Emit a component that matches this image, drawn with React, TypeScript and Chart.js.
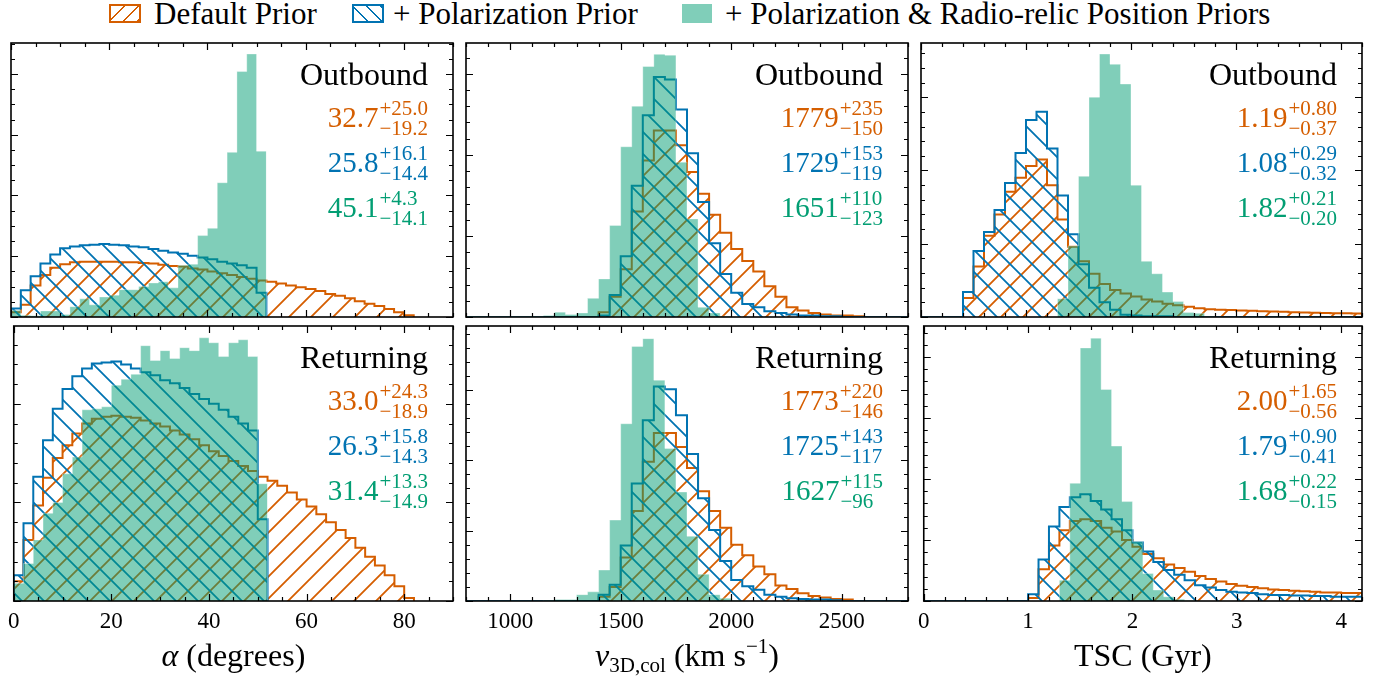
import React, { useEffect, useRef } from 'react';
import { Chart, registerables } from 'chart.js';

Chart.register(...registerables);

const ORANGE = '#d55e00';
const BLUE = '#0173b2';
const GREEN = '#029e73';
const GREEN_FILL = 'rgba(2,158,115,0.5)';
const FONT = '"Liberation Serif", "DejaVu Serif", serif';

// ---------- bin edges ----------
const alphaEdges = [0, 2, 4, 6, 8, 10, 12, 14, 16, 18, 20, 22, 24, 26, 28, 30, 32, 34, 36, 38, 40, 42, 44, 46, 48, 50, 52, 54, 56, 58, 60, 62, 64, 66, 68, 70, 72, 74, 76, 78, 80, 82];
const velocityEdges = [800, 850, 900, 950, 1000, 1050, 1100, 1150, 1200, 1250, 1300, 1350, 1400, 1450, 1500, 1550, 1600, 1650, 1700, 1750, 1800, 1850, 1900, 1950, 2000, 2050, 2100, 2150, 2200, 2250, 2300, 2350, 2400, 2450, 2500, 2550, 2600, 2650, 2700, 2750, 2800];
const tscEdges = [0, 0.1, 0.2, 0.3, 0.4, 0.5, 0.6, 0.7, 0.8, 0.9, 1.0, 1.1, 1.2, 1.3, 1.4, 1.5, 1.6, 1.7, 1.8, 1.9, 2.0, 2.1, 2.2, 2.3, 2.4, 2.5, 2.6, 2.7, 2.8, 2.9, 3.0, 3.1, 3.2, 3.3, 3.4, 3.5, 3.6, 3.7, 3.8, 3.9, 4.0, 4.1, 4.2];

// ---------- alpha (degrees) ----------
const alphaOutOrange = [0.08, 0.2, 0.52, 0.69, 0.81, 0.87, 0.9, 0.91, 0.91, 0.91, 0.91, 0.9, 0.9, 0.89, 0.88, 0.86, 0.84, 0.83, 0.8, 0.78, 0.75, 0.72, 0.69, 0.66, 0.63, 0.6, 0.58, 0.55, 0.52, 0.49, 0.46, 0.43, 0.38, 0.35, 0.31, 0.26, 0.22, 0.18, 0.13, 0.08, 0.03];
const alphaOutBlue = [0.14, 0.44, 0.67, 0.88, 1.03, 1.13, 1.16, 1.18, 1.19, 1.2, 1.19, 1.18, 1.16, 1.15, 1.12, 1.09, 1.06, 1.04, 1.01, 0.98, 0.95, 0.91, 0.88, 0.85, 0.81, 0.4];
const alphaOutGreen = [0.11, 0.03, 0.02, 0.1, 0.1, 0.04, 0.17, 0.3, 0.2, 0.33, 0.36, 0.45, 0.45, 0.5, 0.56, 0.58, 0.48, 0.85, 0.87, 1.34, 1.46, 2.21, 2.71, 4.04, 4.33, 2.73];
const alphaRetOrange = [0.2, 0.62, 0.97, 1.25, 1.45, 1.58, 1.7, 1.8, 1.85, 1.87, 1.88, 1.87, 1.86, 1.83, 1.8, 1.77, 1.73, 1.69, 1.64, 1.58, 1.52, 1.47, 1.42, 1.37, 1.32, 1.26, 1.22, 1.17, 1.1, 1.03, 0.96, 0.88, 0.8, 0.72, 0.64, 0.54, 0.45, 0.36, 0.26, 0.15, 0.03];
const alphaRetBlue = [0.26, 0.79, 1.26, 1.63, 1.95, 2.15, 2.28, 2.36, 2.41, 2.42, 2.43, 2.4, 2.36, 2.32, 2.29, 2.24, 2.21, 2.16, 2.1, 2.05, 2.0, 1.94, 1.87, 1.8, 1.73, 0.83];
const alphaRetGreen = [0.18, 0.38, 0.62, 0.89, 1.0, 1.29, 1.46, 1.94, 1.95, 1.97, 2.19, 2.25, 2.3, 2.59, 2.44, 2.54, 2.46, 2.57, 2.54, 2.67, 2.62, 2.48, 2.62, 2.65, 2.48, 1.19];

// ---------- v_3D,col (km/s) ----------
const velOutOrange = [0, 0, 0, 0, 0, 0, 0, 0, 0, 0, 0, 0, 0.06, 0.25, 0.59, 1.3, 1.93, 2.3, 2.3, 2.12, 1.79, 1.52, 1.26, 1.04, 0.84, 0.69, 0.56, 0.38, 0.25, 0.12, 0.08, 0.05, 0.03, 0.02, 0.02, 0.01, 0, 0, 0, 0];
const velOutBlue = [0, 0, 0, 0, 0, 0, 0, 0, 0, 0, 0, 0, 0.02, 0.27, 0.75, 1.62, 2.49, 2.96, 2.93, 2.56, 2.02, 1.42, 0.91, 0.53, 0.3, 0.16, 0.12, 0.07, 0.05, 0.03, 0.02, 0.02, 0.01, 0.01, 0, 0, 0, 0, 0, 0];
const velOutGreen = [0.01, 0.01, 0.01, 0.01, 0.01, 0.01, 0.01, 0.02, 0.06, 0.03, 0.05, 0.23, 0.47, 1.13, 2.1, 2.6, 3.09, 3.24, 3.23, 1.91, 1.21, 0.12, 0.05, 0.01, 0, 0, 0, 0, 0, 0, 0, 0, 0, 0, 0, 0, 0, 0, 0, 0];
const velRetOrange = [0, 0, 0, 0, 0, 0, 0, 0, 0, 0, 0, 0, 0.06, 0.2, 0.62, 1.28, 1.98, 2.39, 2.39, 2.19, 1.89, 1.56, 1.28, 1.04, 0.8, 0.65, 0.49, 0.38, 0.22, 0.17, 0.11, 0.07, 0.05, 0.03, 0.02, 0, 0, 0, 0, 0];
const velRetBlue = [0, 0, 0, 0, 0, 0, 0, 0, 0, 0, 0, 0, 0.09, 0.23, 0.79, 1.67, 2.57, 3.05, 3.01, 2.64, 2.09, 1.46, 1.01, 0.57, 0.3, 0.21, 0.16, 0.09, 0.06, 0.04, 0.03, 0.02, 0.02, 0.01, 0, 0, 0, 0, 0, 0];
const velRetGreen = [0, 0, 0, 0, 0, 0, 0, 0.01, 0.02, 0.02, 0.09, 0.13, 0.44, 1.15, 2.52, 3.62, 3.73, 3.14, 2.17, 1.55, 0.92, 0.38, 0.09, 0.04, 0.01, 0, 0, 0, 0, 0, 0, 0, 0, 0, 0, 0, 0, 0, 0, 0];

// ---------- TSC (Gyr) ----------
const tscOutOrange = [0, 0, 0, 0, 0.26, 0.69, 1.11, 1.4, 1.71, 1.9, 2.06, 2.15, 1.8, 1.33, 0.96, 0.76, 0.59, 0.45, 0.37, 0.32, 0.28, 0.24, 0.21, 0.18, 0.16, 0.14, 0.12, 0.105, 0.1, 0.095, 0.09, 0.085, 0.08, 0.075, 0.07, 0.065, 0.062, 0.058, 0.055, 0.052, 0.05, 0.048];
const tscOutBlue = [0, 0, 0, 0, 0.34, 0.9, 1.16, 1.46, 1.83, 2.24, 2.69, 2.8, 2.3, 1.66, 1.13, 0.72, 0.4, 0.2, 0.1, 0.03, 0.02, 0.01, 0.01, 0.01, 0, 0, 0, 0, 0, 0, 0, 0, 0, 0, 0, 0, 0, 0, 0, 0, 0, 0];
const tscOutGreen = [0, 0, 0, 0, 0, 0, 0, 0, 0, 0, 0, 0, 0, 0.25, 0.97, 1.92, 3.0, 3.59, 3.45, 3.18, 1.8, 0.76, 0.59, 0.34, 0.21, 0.06, 0.05, 0.01, 0, 0, 0, 0, 0, 0, 0, 0, 0, 0, 0, 0, 0, 0];
const tscRetOrange = [0, 0, 0, 0, 0, 0, 0, 0, 0, 0, 0.05, 0.52, 0.91, 1.16, 1.31, 1.34, 1.31, 1.2, 1.14, 1.0, 0.89, 0.77, 0.7, 0.6, 0.54, 0.48, 0.41, 0.36, 0.32, 0.28, 0.25, 0.23, 0.21, 0.19, 0.18, 0.17, 0.16, 0.15, 0.14, 0.14, 0.13, 0.13];
const tscRetBlue = [0, 0, 0, 0, 0, 0, 0, 0, 0, 0, 0.11, 0.68, 1.22, 1.54, 1.7, 1.75, 1.64, 1.5, 1.34, 1.16, 0.96, 0.81, 0.64, 0.51, 0.43, 0.34, 0.26, 0.22, 0.18, 0.15, 0.14, 0.13, 0.11, 0.1, 0.1, 0.09, 0.09, 0.08, 0.08, 0.07, 0.07, 0.07];
const tscRetGreen = [0, 0, 0, 0, 0, 0, 0, 0, 0, 0, 0, 0, 0, 0.34, 1.93, 4.15, 4.31, 3.47, 2.54, 1.63, 0.97, 0.45, 0.18, 0.07, 0.03, 0.01, 0, 0, 0, 0, 0, 0, 0, 0, 0, 0, 0, 0, 0, 0, 0, 0];

// ---------- tick labels ----------
const alphaTicks = [0, 20, 40, 60, 80];
const alphaTickLabels = ['0', '20', '40', '60', '80'];
const velocityTicks = [1000, 1500, 2000, 2500];
const velocityTickLabels = ['1000', '1500', '2000', '2500'];
const tscTicks = [0, 1, 2, 3, 4];
const tscTickLabels = ['0', '1', '2', '3', '4'];

// ---------- legend / annotation text ----------
const seriesNames = ['Default Prior', '+ Polarization Prior', '+ Polarization & Radio-relic Position Priors'];
const alphaOutStats = [['32.7', '+25.0', '\u221219.2'], ['25.8', '+16.1', '\u221214.4'], ['45.1', '+4.3', '\u221214.1']];
const velOutStats = [['1779', '+235', '\u2212150'], ['1729', '+153', '\u2212119'], ['1651', '+110', '\u2212123']];
const tscOutStats = [['1.19', '+0.80', '\u22120.37'], ['1.08', '+0.29', '\u22120.32'], ['1.82', '+0.21', '\u22120.20']];
const alphaRetStats = [['33.0', '+24.3', '\u221218.9'], ['26.3', '+15.8', '\u221214.3'], ['31.4', '+13.3', '\u221214.9']];
const velRetStats = [['1773', '+220', '\u2212146'], ['1725', '+143', '\u2212117'], ['1627', '+115', '\u221296']];
const tscRetStats = [['2.00', '+1.65', '\u22120.56'], ['1.79', '+0.90', '\u22120.41'], ['1.68', '+0.22', '\u22120.15']];

type Seg = { t: string; size: number; italic?: boolean; dy?: number };
const alphaTitle: Seg[] = [{ t: '\u03b1', size: 32, italic: true }, { t: ' (degrees)', size: 32 }];
const velocityTitle: Seg[] = [
  { t: 'v', size: 32, italic: true },
  { t: '3D,col', size: 21, dy: 6 },
  { t: ' (km s', size: 32 },
  { t: '\u22121', size: 21, dy: -13 },
  { t: ')', size: 32 },
];
const tscTitle: Seg[] = [{ t: 'TSC (Gyr)', size: 32 }];

interface PanelCfg {
  left: number; top: number; width: number; height: number; bottomRow: boolean;
  edges: number[]; orange: number[]; blue: number[]; green: number[];
  xMin: number; xMax: number; ticks: number[]; tickLabels: string[]; xMinor: number;
  yMax: number; yMinor: number; label: string; stats: string[][]; axisTitle: Seg[];
}

const COLS = [{ left: 1, width: 462 }, { left: 456, width: 462 }, { left: 911, width: 461 }];
const ROWS = [{ top: 33, height: 294, bottomRow: false }, { top: 316, height: 360, bottomRow: true }];

const panels: PanelCfg[] = [
  { ...COLS[0], ...ROWS[0], edges: alphaEdges, orange: alphaOutOrange, blue: alphaOutBlue, green: alphaOutGreen, xMin: 0, xMax: 90, ticks: alphaTicks, tickLabels: alphaTickLabels, xMinor: 5, yMax: 4.51, yMinor: 0.25, label: 'Outbound', stats: alphaOutStats, axisTitle: alphaTitle },
  { ...COLS[1], ...ROWS[0], edges: velocityEdges, orange: velOutOrange, blue: velOutBlue, green: velOutGreen, xMin: 800, xMax: 2800, ticks: velocityTicks, tickLabels: velocityTickLabels, xMinor: 100, yMax: 3.38, yMinor: 0.2, label: 'Outbound', stats: velOutStats, axisTitle: velocityTitle },
  { ...COLS[2], ...ROWS[0], edges: tscEdges, orange: tscOutOrange, blue: tscOutBlue, green: tscOutGreen, xMin: 0, xMax: 4.2, ticks: tscTicks, tickLabels: tscTickLabels, xMinor: 0.2, yMax: 3.74, yMinor: 0.2, label: 'Outbound', stats: tscOutStats, axisTitle: tscTitle },
  { ...COLS[0], ...ROWS[1], edges: alphaEdges, orange: alphaRetOrange, blue: alphaRetBlue, green: alphaRetGreen, xMin: 0, xMax: 90, ticks: alphaTicks, tickLabels: alphaTickLabels, xMinor: 5, yMax: 2.79, yMinor: 0.2, label: 'Returning', stats: alphaRetStats, axisTitle: alphaTitle },
  { ...COLS[1], ...ROWS[1], edges: velocityEdges, orange: velRetOrange, blue: velRetBlue, green: velRetGreen, xMin: 800, xMax: 2800, ticks: velocityTicks, tickLabels: velocityTickLabels, xMinor: 100, yMax: 3.91, yMinor: 0.2, label: 'Returning', stats: velRetStats, axisTitle: velocityTitle },
  { ...COLS[2], ...ROWS[1], edges: tscEdges, orange: tscRetOrange, blue: tscRetBlue, green: tscRetGreen, xMin: 0, xMax: 4.2, ticks: tscTicks, tickLabels: tscTickLabels, xMinor: 0.2, yMax: 4.51, yMinor: 0.2, label: 'Returning', stats: tscRetStats, axisTitle: tscTitle },
];

const toSteps = (edges: number[], vals: number[]) => {
  const pts = [{ x: edges[0], y: 0 }];
  vals.forEach((v, i) => pts.push({ x: edges[i], y: v }));
  pts.push({ x: edges[vals.length], y: 0 });
  return pts;
};

const makeHatch = (ctx: CanvasRenderingContext2D, color: string, forward: boolean) => {
  const s = 22;
  const tile = document.createElement('canvas');
  tile.width = s; tile.height = s;
  const g = tile.getContext('2d')!;
  g.strokeStyle = color;
  g.lineWidth = 1.8;
  g.beginPath();
  for (const k of [-1, 0, 1]) {
    if (forward) {
      g.moveTo(k * s - 2, s + 2);
      g.lineTo(k * s + s + 2, -2);
    } else {
      g.moveTo(k * s - 2, -2);
      g.lineTo(k * s + s + 2, s + 2);
    }
  }
  g.stroke();
  return ctx.createPattern(tile, 'repeat')!;
};

const STAT_COLORS = [ORANGE, BLUE, GREEN];

function Panel({ cfg }: { cfg: PanelCfg }) {
  const ref = useRef<HTMLCanvasElement>(null);
  useEffect(() => {
    const canvas = ref.current!;
    const ctx0 = canvas.getContext('2d')!;
    const hatchOrange = makeHatch(ctx0, ORANGE, true);
    const hatchBlue = makeHatch(ctx0, BLUE, false);

    const decor = {
      id: 'decor',
      afterDraw(chart: any) {
        const { ctx, chartArea: a, scales } = chart;
        const xs = scales.x, ys = scales.y;
        ctx.save();
        ctx.strokeStyle = '#000';
        ctx.lineWidth = 1.2;
        ctx.beginPath();
        const nx = Math.round((cfg.xMax - cfg.xMin) / cfg.xMinor);
        for (let i = 0; i <= nx; i++) {
          const v = cfg.xMin + i * cfg.xMinor;
          const isMajor = cfg.ticks.some((t) => Math.abs(t - v) < 1e-6);
          const len = isMajor ? 7 : 4;
          const px = Math.round(xs.getPixelForValue(v)) + 0.5;
          ctx.moveTo(px, a.bottom); ctx.lineTo(px, a.bottom - len);
          ctx.moveTo(px, a.top); ctx.lineTo(px, a.top + len);
        }
        const ny = Math.floor(cfg.yMax / cfg.yMinor + 1e-6);
        for (let i = 0; i <= ny; i++) {
          const v = i * cfg.yMinor;
          const isMajor = Math.abs(v - Math.round(v)) < 1e-6;
          const len = isMajor ? 7 : 4;
          const py = Math.round(ys.getPixelForValue(v)) + 0.5;
          ctx.moveTo(a.left, py); ctx.lineTo(a.left + len, py);
          ctx.moveTo(a.right, py); ctx.lineTo(a.right - len, py);
        }
        ctx.stroke();
        ctx.lineWidth = 1.6;
        ctx.strokeRect(a.left, a.top, a.right - a.left, a.bottom - a.top);

        const rx = a.right - 25;
        ctx.fillStyle = '#000';
        ctx.textAlign = 'right';
        ctx.textBaseline = 'alphabetic';
        ctx.font = `32px ${FONT}`;
        ctx.fillText(cfg.label, rx, a.top + 42);
        cfg.stats.forEach((st, i) => {
          const by = a.top + 84 + i * 45;
          ctx.fillStyle = STAT_COLORS[i];
          ctx.font = `21px ${FONT}`;
          const sw = Math.max(ctx.measureText(st[1]).width, ctx.measureText(st[2]).width);
          const sx = rx - sw;
          ctx.textAlign = 'left';
          ctx.fillText(st[1], sx, by - 12.5);
          ctx.fillText(st[2], sx, by + 7.5);
          ctx.font = `29px ${FONT}`;
          ctx.textAlign = 'right';
          ctx.fillText(st[0], sx - 1, by);
        });

        if (cfg.bottomRow) {
          ctx.fillStyle = '#000';
          ctx.textAlign = 'left';
          const fontOf = (s: Seg) => `${s.italic ? 'italic ' : ''}${s.size}px ${FONT}`;
          let total = 0;
          cfg.axisTitle.forEach((s) => { ctx.font = fontOf(s); total += ctx.measureText(s.t).width; });
          let x = (a.left + a.right) / 2 - total / 2;
          const by = 666 - cfg.top;
          cfg.axisTitle.forEach((s) => {
            ctx.font = fontOf(s);
            ctx.fillText(s.t, x, by + (s.dy || 0));
            x += ctx.measureText(s.t).width;
          });
        }
        ctx.restore();
      },
    };

    const chart = new Chart(canvas, {
      type: 'line',
      data: {
        datasets: [
          { label: seriesNames[2], data: toSteps(cfg.edges, cfg.green), borderColor: 'rgba(255,255,255,0.35)', borderWidth: 1, backgroundColor: GREEN_FILL, fill: 'origin', stepped: true, pointRadius: 0 },
          { label: seriesNames[1], data: toSteps(cfg.edges, cfg.blue), borderColor: BLUE, borderWidth: 2, backgroundColor: hatchBlue, fill: 'origin', stepped: true, pointRadius: 0 },
          { label: seriesNames[0], data: toSteps(cfg.edges, cfg.orange), borderColor: ORANGE, borderWidth: 2, backgroundColor: hatchOrange, fill: 'origin', stepped: true, pointRadius: 0 },
        ],
      },
      options: {
        animation: false,
        responsive: false,
        devicePixelRatio: 1,
        events: [],
        layout: { padding: { left: 10, right: 10, top: 10, bottom: cfg.bottomRow ? 0 : 10 } },
        plugins: { legend: { display: false }, tooltip: { enabled: false } },
        scales: {
          x: {
            type: 'linear',
            min: cfg.xMin,
            max: cfg.xMax,
            display: cfg.bottomRow,
            grid: { display: false, drawTicks: false },
            border: { display: false },
            afterBuildTicks: (s: any) => { s.ticks = cfg.ticks.map((v) => ({ value: v })); },
            afterFit: (s: any) => { if (cfg.bottomRow) s.height = 75; },
            ticks: {
              autoSkip: false,
              maxRotation: 0,
              minRotation: 0,
              padding: 7,
              color: '#000',
              font: { family: FONT, size: 23 },
              callback: (_v: any, i: number) => cfg.tickLabels[i],
            },
          },
          y: { type: 'linear', min: 0, max: cfg.yMax, display: false },
        },
      } as any,
      plugins: [decor],
    });
    return () => chart.destroy();
  }, [cfg]);
  return (
    <canvas
      ref={ref}
      width={cfg.width}
      height={cfg.height}
      style={{ position: 'absolute', left: cfg.left, top: cfg.top, width: cfg.width, height: cfg.height }}
    />
  );
}

const legendText: React.CSSProperties = {
  position: 'absolute', top: -2, fontFamily: FONT, fontSize: 31, lineHeight: '31px', whiteSpace: 'nowrap', color: '#000',
};

export default function App() {
  return (
    <div style={{ position: 'absolute', left: 0, top: 0, width: 1383, height: 676, overflow: 'hidden', background: '#fff' }}>
      {panels.map((p, i) => <Panel key={i} cfg={p} />)}
      <div style={{ position: 'absolute', left: 109, top: 4, width: 32, height: 19, boxSizing: 'border-box', border: `2px solid ${ORANGE}`, background: `repeating-linear-gradient(135deg, transparent 0 8.5px, ${ORANGE} 8.5px 10px)` }} />
      <span style={{ ...legendText, left: 154 }}>{seriesNames[0]}</span>
      <div style={{ position: 'absolute', left: 352, top: 4, width: 32, height: 19, boxSizing: 'border-box', border: `2px solid ${BLUE}`, background: `repeating-linear-gradient(45deg, transparent 0 8.5px, ${BLUE} 8.5px 10px)` }} />
      <span style={{ ...legendText, left: 393 }}>{seriesNames[1]}</span>
      <div style={{ position: 'absolute', left: 682, top: 4, width: 30, height: 19, background: GREEN_FILL }} />
      <span style={{ ...legendText, left: 725 }}>{seriesNames[2]}</span>
    </div>
  );
}
